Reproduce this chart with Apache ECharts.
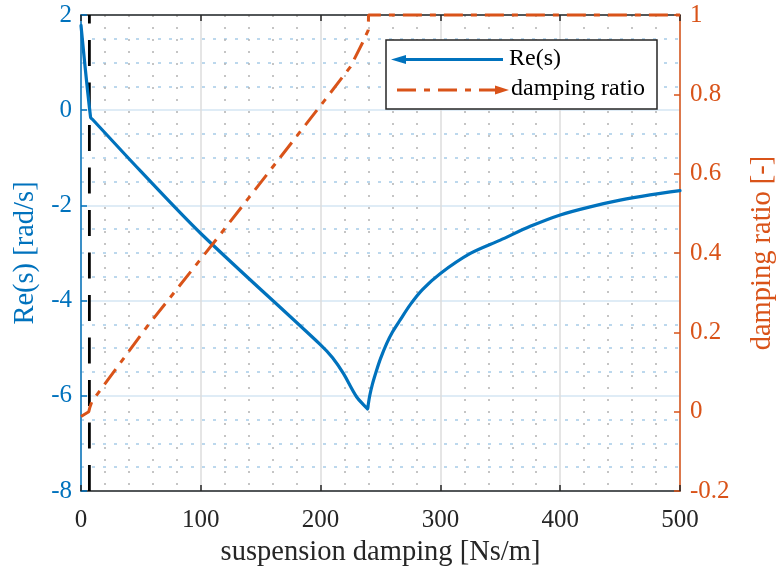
<!DOCTYPE html>
<html>
<head>
<meta charset="utf-8">
<script src="https://cdn.jsdelivr.net/npm/echarts@6/dist/echarts.min.js"></script>
<style>
html,body{margin:0;padding:0;background:#fff;}
#chart{width:779px;height:573px;}
</style>
</head>
<body>
<div id="chart"></div>
<script>
// ---- data ----
const reX = [0, 8, 9.5, 49, 100, 200, 210, 219, 230, 238.8, 239.3, 239.8, 241, 243, 246.8, 250, 255.2, 260, 266.3, 275, 285, 300, 325, 350, 375, 400, 425, 450, 475, 500];
const reY = [1.78, -0.15, -0.19, -1.26, -2.59, -4.93, -5.2, -5.53, -6.02, -6.265, -6.28, -6.18, -6.0, -5.78, -5.46, -5.22, -4.9, -4.66, -4.41, -4.08, -3.77, -3.43, -3.01, -2.73, -2.44, -2.20, -2.03, -1.89, -1.78, -1.69];
const zetaX = [0, 6.5, 7.5, 9, 55, 114, 208, 225, 235, 239.8, 240, 500];
const zetaY = [-0.012, 0.0, 0.012, 0.025, 0.214, 0.438, 0.803, 0.870, 0.93, 0.962, 1.0, 1.0];
const markerX = [7];
const xRange = {min: 0, max: 500, step: 100};
const leftRange = {min: -8, max: 2, step: 2};
const rightRange = {min: -0.2, max: 1, step: 0.2};
const seriesNames = ['Re(s)', 'damping ratio'];
const axisNames = {x: 'suspension damping [Ns/m]', left: 'Re(s) [rad/s]', right: 'damping ratio [-]'};

// ---- styling ----
const BLUE = '#0072BD', ORANGE = '#D95319', DARK = '#262626';
const FONT = '"Liberation Serif", "Times New Roman", serif';

const chart = echarts.init(document.getElementById('chart'), null, {renderer: 'canvas'});

const option = {
  animation: false,
  backgroundColor: '#fff',
  grid: {left: 81, right: 99, top: 15, bottom: 82, containLabel: false, outerBoundsMode: 'none'},
  xAxis: [
    {
      type: 'value', position: 'bottom',
      min: xRange.min, max: xRange.max, interval: xRange.step,
      name: axisNames.x, nameLocation: 'middle', nameGap: 43,
      nameTextStyle: {color: DARK, fontSize: 28.5, fontFamily: FONT},
      axisLine: {show: true, onZero: false, lineStyle: {color: DARK, width: 1.5}},
      axisTick: {show: true, inside: true, length: 6, lineStyle: {color: DARK, width: 1.5}},
      axisLabel: {color: DARK, fontSize: 25, fontFamily: FONT, margin: 17},
      splitLine: {show: true, lineStyle: {color: '#dcdcdc', width: 1.5}},
      minorTick: {show: false, splitNumber: 5},
      minorSplitLine: {show: true, lineStyle: {color: '#b3b3b3', width: 1.5, type: [2, 10]}}
    },
    {
      type: 'value', position: 'top',
      min: xRange.min, max: xRange.max, interval: xRange.step,
      axisLine: {show: true, onZero: false, lineStyle: {color: DARK, width: 1.5}},
      axisTick: {show: true, inside: true, length: 6, lineStyle: {color: DARK, width: 1.5}},
      axisLabel: {show: false},
      splitLine: {show: false}
    }
  ],
  yAxis: [
    {
      type: 'value', position: 'left',
      min: leftRange.min, max: leftRange.max, interval: leftRange.step,
      name: axisNames.left, nameLocation: 'middle', nameGap: 40, nameRotate: 90,
      nameTextStyle: {color: BLUE, fontSize: 28.5, fontFamily: FONT},
      axisLine: {show: true, onZero: false, lineStyle: {color: BLUE, width: 1.5}},
      axisTick: {show: true, inside: true, length: 6, lineStyle: {color: BLUE, width: 1.5}},
      axisLabel: {color: BLUE, fontSize: 25, fontFamily: FONT, margin: 9},
      splitLine: {show: true, lineStyle: {color: '#d5e6f3', width: 1.5}},
      minorTick: {show: false, splitNumber: 4},
      minorSplitLine: {show: true, lineStyle: {color: '#a6cbe7', width: 1.5, type: [3, 8]}}
    },
    {
      type: 'value', position: 'right',
      min: rightRange.min, max: rightRange.max, interval: rightRange.step,
      name: axisNames.right, nameLocation: 'middle', nameGap: 68, nameRotate: 90,
      nameTextStyle: {color: ORANGE, fontSize: 28.5, fontFamily: FONT},
      axisLine: {show: true, onZero: false, lineStyle: {color: ORANGE, width: 1.5}},
      axisTick: {show: true, inside: true, length: 6, lineStyle: {color: ORANGE, width: 1.5}},
      axisLabel: {color: ORANGE, fontSize: 25, fontFamily: FONT, margin: 10,
        formatter: v => String(+v.toFixed(1))},
      splitLine: {show: false}
    }
  ],
  series: [
    {
      type: 'line', name: 'marker', xAxisIndex: 0, yAxisIndex: 0,
      data: [[markerX[0], leftRange.min], [markerX[0], leftRange.max]],
      showSymbol: false, symbol: 'none', clip: false, silent: true,
      lineStyle: {color: '#000', width: 2.8, type: [26, 16.5]}
    },
    {
      type: 'line', name: seriesNames[0], xAxisIndex: 0, yAxisIndex: 0,
      data: reX.map((x, i) => [x, reY[i]]),
      showSymbol: false, symbol: 'none', clip: false,
      smooth: 0.3,
      lineStyle: {color: BLUE, width: 3.2, join: 'round', cap: 'round'}
    },
    {
      type: 'line', name: seriesNames[1], xAxisIndex: 0, yAxisIndex: 1,
      data: zetaX.map((x, i) => [x, zetaY[i]]),
      showSymbol: false, symbol: 'none', clip: false,
      lineStyle: {color: ORANGE, width: 3.0, type: [19, 8, 6, 8]}
    }
  ],
  graphic: [
    {type: 'rect', z: 100, shape: {x: 386, y: 40, width: 271, height: 69},
     style: {fill: '#fff', stroke: DARK, lineWidth: 1.5}},
    {type: 'line', z: 101, shape: {x1: 402, y1: 59.5, x2: 503, y2: 59.5},
     style: {stroke: BLUE, lineWidth: 3.0}},
    {type: 'polygon', z: 101, shape: {points: [[391, 59.5], [406, 55], [406, 64]]},
     style: {fill: BLUE}},
    {type: 'line', z: 101, shape: {x1: 397, y1: 90, x2: 497, y2: 90},
     style: {stroke: ORANGE, lineWidth: 3.0, lineDash: [19, 8, 6, 8]}},
    {type: 'polygon', z: 101, shape: {points: [[509, 90], [495, 85.5], [495, 94.5]]},
     style: {fill: ORANGE}},
    {type: 'text', z: 101, x: 509, y: 59,
     style: {text: seriesNames[0], fontSize: 24, fontFamily: FONT, fill: '#000', verticalAlign: 'middle', align: 'left'}},
    {type: 'text', z: 101, x: 511, y: 88.5,
     style: {text: seriesNames[1], fontSize: 24, fontFamily: FONT, fill: '#000', verticalAlign: 'middle', align: 'left'}}
  ]
};
chart.setOption(option);
</script>
</body>
</html>
